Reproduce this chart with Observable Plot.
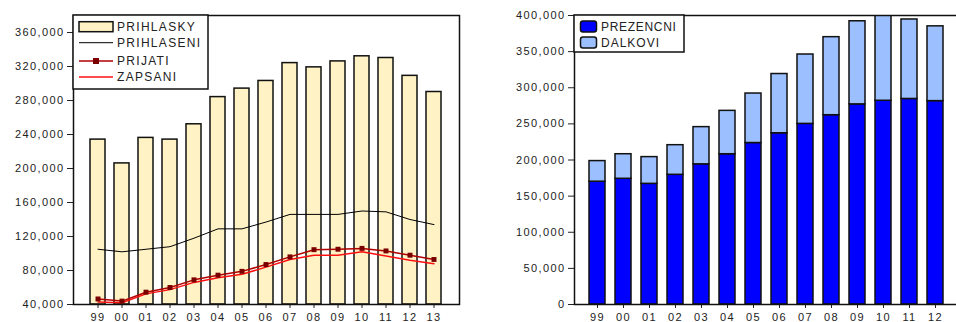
<!DOCTYPE html>
<html><head><meta charset="utf-8">
<script src="https://cdn.jsdelivr.net/npm/d3@7"></script>
<script src="https://cdn.jsdelivr.net/npm/@observablehq/plot@0.6"></script>
<style>
html,body{margin:0;padding:0;background:#fff;overflow:hidden;width:956px;height:322px;}
#wrap{position:relative;width:956px;height:322px;overflow:hidden;}
#left{position:absolute;left:0;top:0;width:480px;}
#right{position:absolute;left:480px;top:0;width:515px;}
#wrap svg{max-width:none !important;}
svg text{font-family:"Liberation Sans",Arial,sans-serif;}
.ax text{letter-spacing:1.4px;}
</style></head><body><div id="wrap"><div id="left"></div><div id="right"></div></div>
<script>
// ---- data ----
const years = ["99","00","01","02","03","04","05","06","07","08","09","10","11","12","13"];
const prihlasky  = [234000,206000,236000,234000,252000,284000,294000,303000,324000,319000,326000,332000,330000,309000,290000];
const prihlaseni = [105000,102000,105000,108000,118000,129000,129000,137000,146000,146000,146000,150000,149000,140000,134000];
const prijati    = [46500,44000,54500,60000,69000,74500,79000,87000,96000,104500,105000,106000,103000,98000,93000];
const zapsani    = [43000,42000,52500,57500,66000,71500,75500,84000,93000,98000,98000,102000,97000,92000,88000];
const leftTicks  = [40000,80000,120000,160000,200000,240000,280000,320000,360000];
const leftDomain = [40000,380000];

const yearsRight = ["99","00","01","02","03","04","05","06","07","08","09","10","11","12"];
const prezencni  = [170000,174000,167000,179500,194000,208000,223500,237000,250000,262000,277000,282000,284500,281500];
const dalkovi    = [28500,34000,37000,41000,51500,60000,68500,82000,96000,108000,115000,118000,110000,103500];
const rightTicks = [0,50000,100000,150000,200000,250000,300000,350000,400000];
const rightDomain = [0,400000];
const seriesRight = ["PREZENCNI","DALKOVI"];

const fmt = d3.format(",");
const font = "Liberation Sans, Arial, sans-serif";

// ---- left chart ----
const leftRows = years.map((y,i)=>({year:y, prihlasky:prihlasky[i], prihlaseni:prihlaseni[i], prijati:prijati[i], zapsani:zapsani[i]}));
const left = Plot.plot({
  width: 480, height: 330,
  marginLeft: 73, marginRight: 21, marginTop: 15, marginBottom: 26,
  style: {fontFamily: font, fontSize: "11px", color: "#222", background: "transparent", maxWidth: "none"},
  x: {domain: years, paddingInner: 0.36, paddingOuter: 0.42},
  y: {domain: leftDomain},
  marks: [
    Plot.barY(leftRows, {x: "year", y1: () => leftDomain[0], y2: "prihlasky", fill: "#FFF2C4", stroke: "#111", strokeWidth: 1.5}),
    Plot.lineY(leftRows, {x: "year", y: "prihlaseni", stroke: "#000", strokeWidth: 1}),
    Plot.lineY(leftRows, {x: "year", y: "zapsani", stroke: "#FF1010", strokeWidth: 1.5}),
    Plot.lineY(leftRows, {x: "year", y: "prijati", stroke: "#B00000", strokeWidth: 1.5}),
    Plot.dot(leftRows, {x: "year", y: "prijati", symbol: "square", r: 2.8, fill: "#7A0000", stroke: null}),
    Plot.axisY({ticks: leftTicks, tickFormat: fmt, tickSize: 6, tickPadding: 3, label: null, className: "ax"}),
    Plot.axisX({tickSize: 4, tickPadding: 5, label: null, className: "ax"}),
    Plot.frame({stroke: "#111", strokeWidth: 1.5})
  ]
});
document.getElementById("left").appendChild(left);

// left legend
{
  const g = d3.select(left).append("g").attr("font-family", font).attr("font-size", 12).attr("fill", "#222").attr("text-anchor", "start");
  g.append("rect").attr("x", 73).attr("y", 15).attr("width", 135).attr("height", 74)
    .attr("fill", "#fff").attr("stroke", "#111").attr("stroke-width", 1.5);
  const rows = [
    {label: "PRIHLASKY", y: 26.7, kind: "box"},
    {label: "PRIHLASENI", y: 42.7, kind: "line", color: "#000", w: 1},
    {label: "PRIJATI", y: 61, kind: "marker", color: "#B00000", w: 1.5},
    {label: "ZAPSANI", y: 77, kind: "line", color: "#FF1010", w: 1.5}
  ];
  rows.forEach(r => {
    if (r.kind === "box") {
      g.append("rect").attr("x", 79).attr("y", r.y - 5).attr("width", 34).attr("height", 10)
        .attr("fill", "#FFF2C4").attr("stroke", "#111").attr("stroke-width", 1.5);
    } else {
      g.append("line").attr("x1", 79).attr("x2", 113).attr("y1", r.y).attr("y2", r.y)
        .attr("stroke", r.color).attr("stroke-width", r.w);
      if (r.kind === "marker") {
        g.append("rect").attr("x", 93).attr("y", r.y - 3).attr("width", 6).attr("height", 6).attr("fill", "#7A0000");
      }
    }
    g.append("text").attr("x", 117).attr("y", r.y).attr("dy", "0.36em").attr("text-anchor", "start")
      .style("letter-spacing", "1.3px").text(r.label);
  });
}

// ---- right chart ----
const rightRows = [];
yearsRight.forEach((y,i) => {
  rightRows.push({year: y, series: seriesRight[0], value: prezencni[i]});
  rightRows.push({year: y, series: seriesRight[1], value: dalkovi[i]});
});
const right = Plot.plot({
  width: 515, height: 330,
  marginLeft: 94, marginRight: 10, marginTop: 15, marginBottom: 26,
  style: {fontFamily: font, fontSize: "11px", color: "#222", background: "transparent", maxWidth: "none"},
  x: {domain: years, paddingInner: 0.375, paddingOuter: 0.386},
  y: {domain: rightDomain},
  color: {domain: seriesRight, range: ["#0000FF", "#9CC0FF"]},
  marks: [
    Plot.barY(rightRows, {x: "year", y: "value", fill: "series", stroke: "#111", strokeWidth: 1.5, clip: true}),
    Plot.axisY({ticks: rightTicks, tickFormat: fmt, tickSize: 6, tickPadding: 3, label: null, className: "ax"}),
    Plot.axisX({ticks: yearsRight, tickSize: 4, tickPadding: 5, label: null, className: "ax"}),
    Plot.frame({stroke: "#111", strokeWidth: 1.5})
  ]
});
document.getElementById("right").appendChild(right);

// right legend
{
  const g = d3.select(right).append("g").attr("font-family", font).attr("font-size", 12).attr("fill", "#222").attr("text-anchor", "start");
  g.append("rect").attr("x", 94).attr("y", 15).attr("width", 110).attr("height", 37)
    .attr("fill", "#fff").attr("stroke", "#111").attr("stroke-width", 1.5);
  const cols = ["#0000FF", "#9CC0FF"];
  [26.5, 42.5].forEach((yy, i) => {
    g.append("rect").attr("x", 100.5).attr("y", yy - 5.5).attr("width", 16).attr("height", 11).attr("rx", 2.5)
      .attr("fill", cols[i]).attr("stroke", "#111").attr("stroke-width", 1.5);
    g.append("text").attr("x", 121).attr("y", yy).attr("dy", "0.36em").attr("text-anchor", "start")
      .style("letter-spacing", i === 0 ? "0.7px" : "1px").text(seriesRight[i]);
  });
}
</script>
</body></html>
